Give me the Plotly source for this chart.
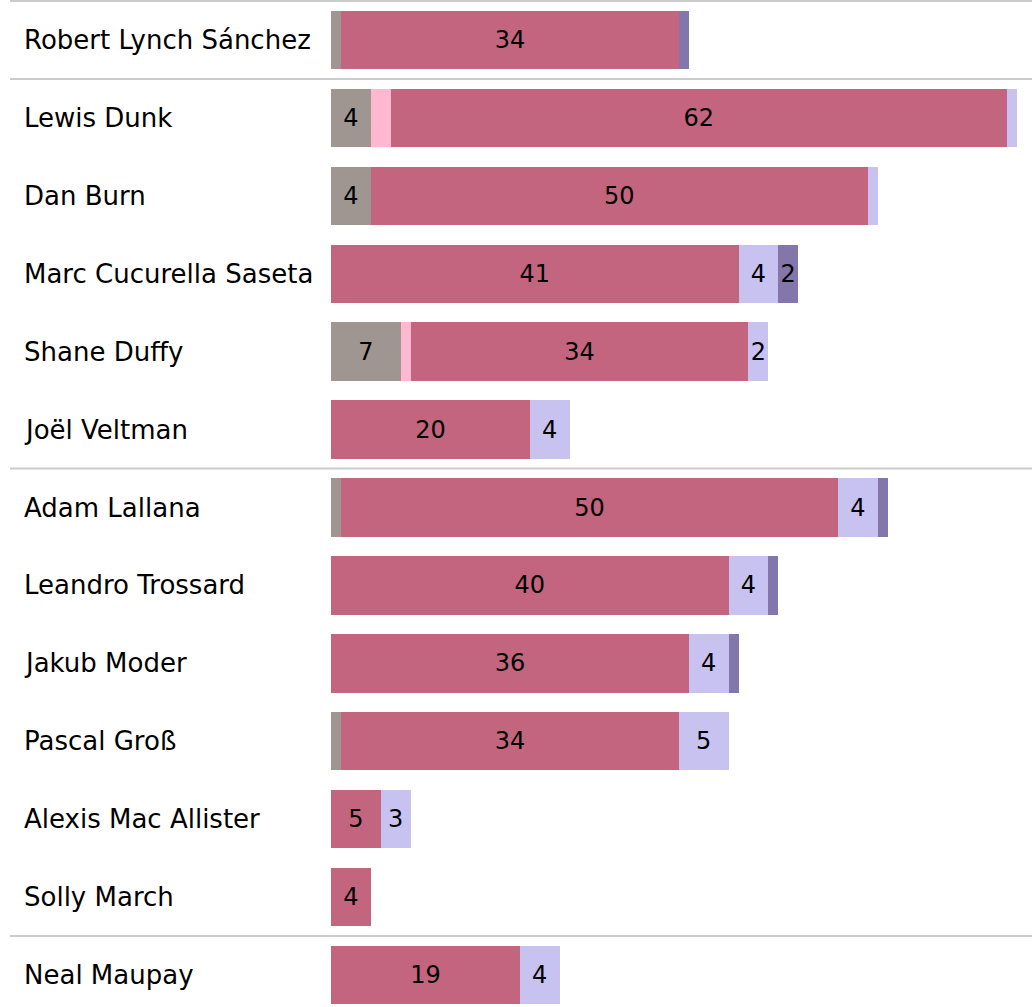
import plotly.graph_objects as go

players = ["Robert Lynch Sánchez", "Lewis Dunk", "Dan Burn", "Marc Cucurella Saseta",
           "Shane Duffy", "Joël Veltman", "Adam Lallana", "Leandro Trossard",
           "Jakub Moder", "Pascal Groß", "Alexis Mac Allister", "Solly March", "Neal Maupay"]

seg_grey = [1, 4, 4, 0, 7, 0, 1, 0, 0, 1, 0, 0, 0]
seg_lightpink = [0, 2, 0, 0, 1, 0, 0, 0, 0, 0, 0, 0, 0]
seg_main = [34, 62, 50, 41, 34, 20, 50, 40, 36, 34, 5, 4, 19]
seg_lavender = [0, 1, 1, 4, 2, 4, 4, 4, 4, 5, 3, 0, 4]
seg_purple = [1, 0, 0, 2, 0, 0, 1, 1, 1, 0, 0, 0, 0]

group_breaks = [-0.5, 0.5, 5.5, 11.5]

series = [
    ("Grey", seg_grey, "#9f9692", True),
    ("Light pink", seg_lightpink, "#ffb8d0", False),
    ("Main", seg_main, "#c4657f", True),
    ("Lavender", seg_lavender, "#c8c2f0", True),
    ("Purple", seg_purple, "#8376ab", True),
]

W, H = 1032, 1007
L = 331
plot_w = W - L
row_px = 78.0
n_rows_visible = H / row_px
FS = 26

fig = go.Figure()
for name, vals, color, show_text in series:
    txt = [str(v) if (show_text and v >= 2) else "" for v in vals]
    fig.add_trace(go.Bar(
        y=players, x=vals, orientation="h", name=name,
        marker=dict(color=color, line=dict(width=0)),
        text=txt, textposition="inside", insidetextanchor="middle",
        constraintext="none",
        textfont=dict(family="DejaVu Sans", size=FS - 2, color="black"),
        hoverinfo="x+y",
    ))

for i, p in enumerate(players):
    fig.add_annotation(x=(22 - L) / plot_w, xref="paper", y=p, yref="y",
                       text=p, showarrow=False, xanchor="left", yanchor="middle",
                       font=dict(family="DejaVu Sans", size=FS, color="black"))

for b in group_breaks:
    fig.add_shape(type="line", xref="paper", yref="y",
                  x0=(10 - L) / plot_w, x1=1, y0=b, y1=b,
                  line=dict(color="#cccccc", width=2), layer="below")

fig.update_layout(
    width=W, height=H, barmode="stack", bargap=0.25, showlegend=False,
    margin=dict(l=L, r=0, t=0, b=0),
    plot_bgcolor="white", paper_bgcolor="white",
    xaxis=dict(visible=False, range=[0, plot_w / 9.94]),
    yaxis=dict(showticklabels=False, showgrid=False, zeroline=False,
               range=[-0.5 + n_rows_visible, -0.5 - 1.0 / row_px]),
)
fig.write_html("out.html", config={"displayModeBar": False},
               post_script="document.body.style.margin='0';")
